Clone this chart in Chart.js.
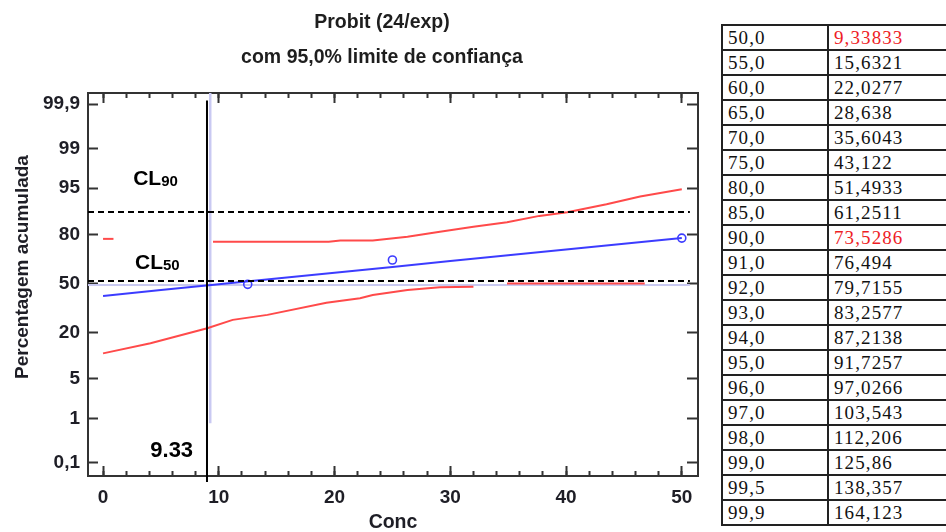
<!DOCTYPE html>
<html>
<head>
<meta charset="utf-8">
<script src="https://cdn.jsdelivr.net/npm/chart.js@4.4.4/dist/chart.umd.min.js"></script>
<style>
  html, body { margin: 0; padding: 0; background: #fff; width: 946px; height: 532px; overflow: hidden; }
  body { position: relative; }
  #plot { position: absolute; left: 0; top: 0; }
  #tbl {
    position: absolute; left: 721px; top: 24px;
    border-collapse: collapse; table-layout: fixed; width: 240px;
    font-family: "Liberation Serif", "Times New Roman", serif;
    font-size: 19px; letter-spacing: 1.1px; color: #111; background: #fff;
  }
  #tbl td { border: 2px solid #222; height: 23px; padding: 0 0 0 5px; line-height: 23px; white-space: nowrap; }
  #tbl td.red { color: #ee1c25; }
</style>
</head>
<body>
<canvas id="plot" width="764" height="532"></canvas>
<table id="tbl"><colgroup><col style="width:106px"><col style="width:134px"></colgroup><tbody></tbody></table>
<script>
// values (x = Conc, y = cumulative percent)
const xMajorTicks = [0, 10, 20, 30, 40, 50];
const xMinorTicks = [0, 2, 4, 6, 8, 10, 12, 14, 16, 18, 20, 22, 24, 26, 28, 30, 32, 34, 36, 38, 40, 42, 44, 46, 48, 50];
const yTickPct = [0.1, 1, 5, 20, 50, 80, 95, 99, 99.9];
const yTickLabels = ['0,1', '1', '5', '20', '50', '80', '95', '99', '99,9'];

const fitConc = [0, 5, 10, 15, 20, 25, 30, 35, 40, 45, 50];
const fitPct = [41.4, 45.5, 49.4, 53.4, 57.3, 61.2, 65.0, 68.7, 72.1, 75.3, 78.4];

const obsConc = [12.5, 25, 50];
const obsPct = [49.4, 65.7, 78.3];

const upperConc = [9.5, 15, 19.5, 20.5, 23.3, 26.3, 29.1, 32.0, 34.9, 37.7, 40.1, 43.5, 46.4, 50];
const upperPct = [76.4, 76.4, 76.4, 77.0, 77.0, 79.0, 81.4, 83.6, 85.4, 87.8, 89.0, 91.4, 93.3, 94.8];
const upperStubConc = [0, 0.9];
const upperStubPct = [77.9, 77.9];

const lowerConc = [0, 4.1, 9.0, 11.2, 14.2, 19.3, 22.2, 23.3, 26.3, 29.1, 32.0];
const lowerPct = [11.4, 15.1, 22.0, 26.5, 29.4, 37.0, 40.0, 42.1, 45.5, 47.4, 47.8];
const lowerFlatConc = [34.9, 46.8];
const lowerFlatPct = [50, 50];

const cl90Pct = 89.1;     // dashed line marked CL90
const cl50Pct = 51.7;     // dashed line marked CL50
const lc50Conc = 8.98;    // hand-drawn vertical at 9.33
const refConc = 9.26;     // faint vertical from the program
const refPct = 49.0;      // faint horizontal from the program

const tableProb = ['50,0', '55,0', '60,0', '65,0', '70,0', '75,0', '80,0', '85,0', '90,0', '91,0', '92,0',
  '93,0', '94,0', '95,0', '96,0', '97,0', '98,0', '99,0', '99,5', '99,9'];
const tableConc = ['9,33833', '15,6321', '22,0277', '28,638', '35,6043', '43,122', '51,4933', '61,2511', '73,5286',
  '76,494', '79,7155', '83,2577', '87,2138', '91,7257', '97,0266', '103,543', '112,206', '125,86', '138,357', '164,123'];
const tableRed = [0, 8];

// probit (inverse normal) so percentages sit on the normal-probability axis
function probit(pct) {
  const p = pct / 100;
  const a = [-39.69683028665376, 220.9460984245205, -275.9285104469687, 138.3577518672690, -30.66479806614716, 2.506628277459239];
  const b = [-54.47609879822406, 161.5858368580409, -155.6989798598866, 66.80131188771972, -13.28068155288572];
  const c = [-0.007784894002430293, -0.3223964580411365, -2.400758277161838, -2.549732539343734, 4.374664141464968, 2.938163982698783];
  const d = [0.007784695709041462, 0.3224671290700398, 2.445134137142996, 3.754408661907416];
  const lo = 0.02425;
  if (p < lo || p > 1 - lo) {
    const q = Math.sqrt(-2 * Math.log(p < lo ? p : 1 - p));
    const v = (((((c[0] * q + c[1]) * q + c[2]) * q + c[3]) * q + c[4]) * q + c[5]) /
      ((((d[0] * q + d[1]) * q + d[2]) * q + d[3]) * q + 1);
    return p < lo ? v : -v;
  }
  const q = p - 0.5, r = q * q;
  return (((((a[0] * r + a[1]) * r + a[2]) * r + a[3]) * r + a[4]) * r + a[5]) * q /
    (((((b[0] * r + b[1]) * r + b[2]) * r + b[3]) * r + b[4]) * r + 1);
}

function pts(xs, ps) {
  return xs.map((x, i) => ({ x, y: probit(ps[i]) }));
}

// table
const tbody = document.querySelector('#tbl tbody');
tableProb.forEach((p, i) => {
  const tr = document.createElement('tr');
  tr.innerHTML = `<td>${p}</td><td class="${tableRed.includes(i) ? 'red' : ''}">${tableConc[i]}</td>`;
  tbody.appendChild(tr);
});

const X_MIN = -1.3, X_MAX = 51.4;
const Y_MIN = -3.32, Y_MAX = 3.284;
const FONT = "'Liberation Sans', Arial, sans-serif";
const AXIS = '#333';
const RED = '#ff4a4a';
const BLUE = '#3c3cff';
const LAV = '#c9c9f2';

const tickFont = { family: FONT, size: 19, weight: 'bold' };

const line = (data, color, extra = {}) => Object.assign({
  data, showLine: true, borderColor: color, backgroundColor: color, borderWidth: 2, pointRadius: 0, fill: false
}, extra);

const datasets = [
  line([{ x: lc50Conc, y: probit(99.92) }, { x: lc50Conc, y: probit(0.031) }], '#000', { clip: false }),
  line(pts([X_MIN, 50.7], [cl90Pct, cl90Pct]), '#000', { borderDash: [6, 4] }),
  line(pts([X_MIN, 50.7], [cl50Pct, cl50Pct]), '#000', { borderDash: [6, 4] }),
  {
    data: pts(obsConc, obsPct), showLine: false, pointRadius: 4, pointBorderWidth: 1.6,
    pointBorderColor: BLUE, pointBackgroundColor: 'rgba(0,0,0,0)', pointStyle: 'circle'
  },
  line(pts(fitConc, fitPct), BLUE),
  line(pts(upperConc, upperPct), RED),
  line(pts(upperStubConc, upperStubPct), RED),
  line(pts(lowerConc, lowerPct), RED),
  line(pts(lowerFlatConc, lowerFlatPct), RED),
  line(pts([X_MIN, 50.7], [refPct, refPct]), LAV),
  line(pts([refConc, refConc], [99.95, 0.8]), LAV, { borderWidth: 2.5 }),
];

const setTicks = list => scale => { scale.ticks = list.map(v => ({ value: v })); };
const yTickZ = yTickPct.map(probit);

const annotations = {
  id: 'annotations',
  afterDatasetsDraw(chart) {
    const { ctx, scales: { x, y } } = chart;
    ctx.save();
    ctx.fillStyle = '#000';
    ctx.textBaseline = 'alphabetic';
    function cl(sub, cx, cz) {
      const px = x.getPixelForValue(cx), py = y.getPixelForValue(cz);
      ctx.font = `bold 21px ${FONT}`;
      ctx.textAlign = 'left';
      ctx.fillText('CL', px, py);
      const w = ctx.measureText('CL').width;
      ctx.font = `bold 15px ${FONT}`;
      ctx.fillText(sub, px + w, py + 1);
    }
    cl('90', 2.6, 1.70);
    cl('50', 2.76, 0.245);
    ctx.font = `bold 22px ${FONT}`;
    ctx.textAlign = 'right';
    ctx.fillText('9.33', x.getPixelForValue(7.78), y.getPixelForValue(-2.997));
    // y axis title
    ctx.translate(23, 267);
    ctx.rotate(-Math.PI / 2);
    ctx.textAlign = 'center';
    ctx.textBaseline = 'middle';
    ctx.fillStyle = '#1e1e26';
    ctx.font = `bold 19px ${FONT}`;
    ctx.fillText('Percentagem acumulada', 0, 0);
    ctx.restore();
  }
};

const frame = { color: AXIS, width: 2 };
const tickGrid = len => ({ drawOnChartArea: false, tickLength: len, tickColor: AXIS, tickWidth: 2 });

new Chart(document.getElementById('plot'), {
  type: 'scatter',
  data: { datasets },
  options: {
    responsive: false,
    animation: false,
    devicePixelRatio: 1,
    layout: { padding: 0 },
    plugins: {
      legend: { display: false },
      tooltip: { enabled: false },
      title: {
        display: true,
        text: ['Probit (24/exp)', 'com 95,0% limite de confiança'],
        color: '#1e1e1e',
        font: { family: FONT, size: 19.5, weight: 'bold', lineHeight: 1.795 },
        padding: { top: 5.5, bottom: 17.5 }
      }
    },
    scales: {
      x: {
        type: 'linear', position: 'bottom', min: X_MIN, max: X_MAX, bounds: 'data',
        afterBuildTicks: setTicks(xMajorTicks),
        afterFit: s => { s.height = 56; },
        ticks: { callback: v => String(v), font: tickFont, color: '#1e1e26', padding: 20, maxRotation: 0, autoSkip: false },
        grid: tickGrid(-10),
        border: frame,
        title: { display: true, text: 'Conc', color: '#1e1e26', font: { family: FONT, size: 19.5, weight: 'bold', lineHeight: 1 }, padding: 0 }
      },
      xm: {
        type: 'linear', position: { y: Y_MIN }, min: X_MIN, max: X_MAX, bounds: 'data',
        afterBuildTicks: setTicks(xMinorTicks),
        ticks: { display: false },
        grid: tickGrid(-5),
        border: { display: false }
      },
      xt: {
        type: 'linear', position: { y: Y_MAX }, min: X_MIN, max: X_MAX, bounds: 'data',
        afterBuildTicks: setTicks(xMajorTicks),
        ticks: { display: false },
        grid: tickGrid(9),
        border: frame
      },
      xtm: {
        type: 'linear', position: { y: Y_MAX }, min: X_MIN, max: X_MAX, bounds: 'data',
        afterBuildTicks: setTicks(xMinorTicks),
        ticks: { display: false },
        grid: tickGrid(5),
        border: { display: false }
      },
      y: {
        type: 'linear', position: 'left', min: Y_MIN, max: Y_MAX, bounds: 'data',
        afterBuildTicks: setTicks(yTickZ),
        afterFit: s => { s.width = 88; },
        ticks: { callback: (v, i) => yTickLabels[i], font: tickFont, color: '#1e1e26', padding: 18, autoSkip: false },
        grid: tickGrid(-10),
        border: frame
      },
      yr: {
        type: 'linear', position: 'right', min: Y_MIN, max: Y_MAX, bounds: 'data',
        afterBuildTicks: setTicks(yTickZ),
        afterFit: s => { s.width = 66; },
        ticks: { display: false },
        grid: tickGrid(-11),
        border: frame
      }
    }
  },
  plugins: [annotations]
});
</script>
</body>
</html>
